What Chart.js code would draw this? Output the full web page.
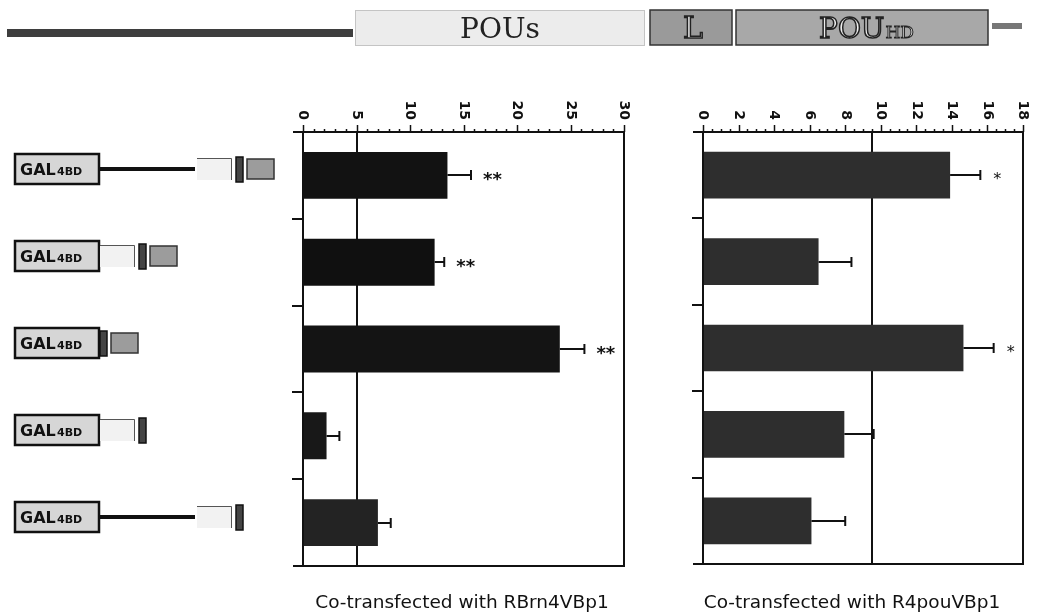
<!DOCTYPE html>
<html>
<head>
<meta charset="utf-8">
<script src="https://cdn.jsdelivr.net/npm/chart.js@4/dist/chart.umd.min.js"></script>
<style>
  html, body { margin: 0; padding: 0; background: #fff; }
  #wrap { position: relative; width: 1037px; height: 613px; }
  #chart-brn4 { position: absolute; left: 0; top: 0; }
  #chart-pou { position: absolute; left: 665px; top: 0; }
</style>
</head>
<body>
<div id="wrap">
  <canvas id="chart-brn4" width="1037" height="613"></canvas>
  <canvas id="chart-pou" width="372" height="613"></canvas>
</div>
<script>
// Constructs (GAL4 DNA-binding domain fusions), top to bottom
const constructs = ['N-POUs-L-POUhd', 'POUs-L-POUhd', 'L-POUhd', 'POUs-L', 'N-POUs-L'];
const constructParts = [['N', 'POUs', 'L', 'HD'], ['POUs', 'L', 'HD'], ['L', 'HD'], ['POUs', 'L'], ['N', 'POUs', 'L']];

// Co-transfected with RBrn4VBp1
const brn4Values = [13.5, 12.3, 24.0, 2.2, 7.0];
const brn4Errors = [2.2, 0.9, 2.3, 1.2, 1.2];
const brn4Sig = ['**', '**', '**', '', ''];
const brn4Ticks = [0, 5, 10, 15, 20, 25, 30];
const brn4RefLine = 5;

// Co-transfected with R4pouVBp1
const pouValues = [13.9, 6.5, 14.65, 7.95, 6.1];
const pouErrors = [1.7, 1.85, 1.7, 1.65, 1.9];
const pouSig = ['*', '', '*', '', ''];
const pouTicks = [0, 2, 4, 6, 8, 10, 12, 14, 16, 18];
const pouRefLine = 9.5;

const INK = '#111';

function line(ctx, x1, y1, x2, y2) {
  ctx.beginPath();
  ctx.moveTo(x1, y1);
  ctx.lineTo(x2, y2);
  ctx.stroke();
}

// Top schematic of the full protein
function drawSchematic(ctx) {
  ctx.save();
  ctx.fillStyle = '#3e3e3e';
  ctx.fillRect(7, 29, 346, 8);

  ctx.fillStyle = '#ececec';
  ctx.fillRect(355, 10, 290, 36);
  ctx.strokeStyle = '#c4c4c4';
  ctx.lineWidth = 1;
  ctx.strokeRect(355.5, 10.5, 289, 35);

  ctx.fillStyle = '#9a9a9a';
  ctx.fillRect(650, 10, 82, 35);
  ctx.fillStyle = '#a8a8a8';
  ctx.fillRect(736, 10, 252, 35);
  ctx.strokeStyle = '#333';
  ctx.lineWidth = 1.5;
  ctx.strokeRect(650, 10, 82, 35);
  ctx.strokeRect(736, 10, 252, 35);

  ctx.fillStyle = '#777';
  ctx.fillRect(992, 23, 30, 6);

  ctx.textBaseline = 'alphabetic';
  ctx.fillStyle = '#222';
  ctx.font = '28px "DejaVu Serif"';
  ctx.textAlign = 'center';
  ctx.fillText('POUs', 500, 38);

  ctx.fillStyle = '#eee';
  ctx.strokeStyle = '#222';
  ctx.lineWidth = 1.5;
  ctx.font = '30px "DejaVu Serif"';
  ctx.fillText('L', 693, 38);
  ctx.strokeText('L', 693, 38);

  ctx.textAlign = 'left';
  ctx.font = '28px "DejaVu Serif"';
  const wPou = ctx.measureText('POU').width;
  ctx.font = '17px "DejaVu Serif"';
  const wHd = ctx.measureText('HD').width;
  const sx = 866 - (wPou + wHd) / 2;
  ctx.font = '28px "DejaVu Serif"';
  ctx.fillText('POU', sx, 38);
  ctx.strokeText('POU', sx, 38);
  ctx.font = '17px "DejaVu Serif"';
  ctx.lineWidth = 1;
  ctx.fillText('HD', sx + wPou + 1, 38);
  ctx.strokeText('HD', sx + wPou + 1, 38);
  ctx.restore();
}

// GAL4BD fusion constructs drawn beside each bar row
function drawConstructs(chart) {
  const { ctx, scales: { y } } = chart;
  const widths = { N: 96, POUs: 35, L: 7, HD: 27 };
  ctx.save();
  constructParts.forEach((parts, i) => {
    const c = Math.round(y.getPixelForValue(i)) - 6;
    // GAL4BD box
    ctx.fillStyle = '#d6d6d6';
    ctx.fillRect(15, c - 15, 84, 30);
    ctx.strokeStyle = INK;
    ctx.lineWidth = 2.5;
    ctx.strokeRect(15, c - 15, 84, 30);
    ctx.fillStyle = INK;
    ctx.textBaseline = 'alphabetic';
    ctx.textAlign = 'left';
    ctx.font = 'bold 16px "DejaVu Sans"';
    ctx.fillText('GAL', 20, c + 6);
    ctx.font = 'bold 11px "DejaVu Sans"';
    ctx.fillText('4BD', 57, c + 6);

    let px = 99;
    parts.forEach((p, k) => {
      const w = widths[p];
      if (p === 'N') {
        ctx.fillStyle = INK;
        ctx.fillRect(px, c - 2, w, 4);
        px += w + 2;
        return;
      }
      if (k > 0 && parts[k - 1] !== 'N') px += 4;
      if (k === 0) px += 1;
      if (p === 'POUs') {
        ctx.fillStyle = '#f2f2f2';
        ctx.fillRect(px, c - 11, w, 22);
        ctx.strokeStyle = '#555';
        ctx.lineWidth = 1;
        ctx.beginPath();
        ctx.moveTo(px, c - 10.5);
        ctx.lineTo(px + w - 0.5, c - 10.5);
        ctx.lineTo(px + w - 0.5, c + 11);
        ctx.stroke();
      } else if (p === 'L') {
        ctx.fillStyle = '#444';
        ctx.fillRect(px, c - 12, w, 25);
        ctx.strokeStyle = INK;
        ctx.lineWidth = 1.5;
        ctx.strokeRect(px, c - 12, w, 25);
      } else if (p === 'HD') {
        ctx.fillStyle = '#9c9c9c';
        ctx.fillRect(px, c - 10, w, 20);
        ctx.strokeStyle = '#333';
        ctx.lineWidth = 1.5;
        ctx.strokeRect(px, c - 10, w, 20);
      }
      px += w;
    });
  });
  ctx.restore();
}

function panelPlugin(opts) {
  return {
    id: 'panel_' + opts.key,
    beforeDatasetsDraw(chart) {
      const { ctx, chartArea: a, scales: { x } } = chart;
      ctx.save();
      ctx.strokeStyle = INK;
      ctx.lineWidth = 2;
      const rx = Math.round(x.getPixelForValue(opts.refLine));
      line(ctx, rx, a.top, rx, a.bottom);
      ctx.restore();
    },
    afterDatasetsDraw(chart) {
      const { ctx, chartArea: a, scales: { x, y } } = chart;
      ctx.save();
      ctx.strokeStyle = INK;
      ctx.fillStyle = INK;
      ctx.lineWidth = 2;

      // frame
      line(ctx, a.left - 10, a.top, a.right + 1, a.top);
      line(ctx, a.left - 10, a.bottom, a.right + 1, a.bottom);
      line(ctx, a.left, a.top, a.left, a.bottom);
      line(ctx, a.right, a.top, a.right, a.bottom);

      // category separators on the left axis
      for (let i = 0; i < opts.values.length - 1; i++) {
        const ty = Math.round((y.getPixelForValue(i) + y.getPixelForValue(i + 1)) / 2);
        line(ctx, a.left - 11, ty, a.left, ty);
      }

      // value ticks on the top axis
      const maxV = opts.ticks[opts.ticks.length - 1];
      const majorStep = opts.ticks[1] - opts.ticks[0];
      const n = Math.round(maxV / opts.minorStep);
      ctx.lineWidth = 1.5;
      for (let k = 0; k <= n; k++) {
        const v = k * opts.minorStep;
        const major = Math.abs(v / majorStep - Math.round(v / majorStep)) < 1e-6;
        const tx = Math.round(x.getPixelForValue(v)) + 0.5;
        line(ctx, tx, a.top, tx, a.top - (major ? 7 : 3));
      }

      // rotated tick labels
      ctx.font = 'bold 14px "DejaVu Sans"';
      ctx.textAlign = 'right';
      ctx.textBaseline = 'middle';
      opts.ticks.forEach(t => {
        ctx.save();
        ctx.translate(x.getPixelForValue(t), a.top - 12);
        ctx.rotate(Math.PI / 2);
        ctx.fillText(String(t), 0, 0);
        ctx.restore();
      });

      // error bars and significance marks
      ctx.lineWidth = 2;
      ctx.textAlign = 'left';
      ctx.textBaseline = 'middle';
      opts.values.forEach((v, i) => {
        const yc = Math.round(y.getPixelForValue(i));
        const x0 = x.getPixelForValue(v);
        const x1 = x.getPixelForValue(v + opts.errors[i]);
        line(ctx, x0, yc, x1, yc);
        line(ctx, x1, yc - 5, x1, yc + 5);
        if (opts.sig[i]) {
          ctx.font = opts.sigFont;
          ctx.fillText(opts.sig[i], x1 + opts.sigGap, yc + 5);
        }
      });

      // caption
      ctx.font = '18.5px "DejaVu Sans"';
      ctx.textAlign = 'center';
      ctx.textBaseline = 'middle';
      ctx.fillText(opts.caption, opts.captionX, 603);
      ctx.restore();

      if (opts.extra) opts.extra(chart);
    }
  };
}

function makeChart(canvasId, opts) {
  return new Chart(document.getElementById(canvasId), {
    type: 'bar',
    data: {
      labels: constructs,
      datasets: [{
        data: opts.values,
        backgroundColor: opts.colors,
        borderWidth: 0,
        barPercentage: 0.54,
        categoryPercentage: 1
      }]
    },
    options: {
      indexAxis: 'y',
      responsive: false,
      animation: false,
      layout: { padding: opts.padding },
      plugins: { legend: { display: false }, tooltip: { enabled: false } },
      scales: {
        x: { type: 'linear', min: 0, max: opts.ticks[opts.ticks.length - 1], display: false },
        y: { type: 'category', display: false }
      }
    },
    plugins: [panelPlugin(opts)]
  });
}

makeChart('chart-brn4', {
  key: 'brn4',
  values: brn4Values,
  errors: brn4Errors,
  sig: brn4Sig,
  ticks: brn4Ticks,
  refLine: brn4RefLine,
  minorStep: 1,
  colors: ['#121212', '#101010', '#141414', '#181818', '#232323'],
  padding: { left: 303, right: 413, top: 132, bottom: 47 },
  sigFont: 'bold 18px "DejaVu Sans"',
  sigGap: 12,
  caption: 'Co-transfected with RBrn4VBp1',
  captionX: 462,
  extra: chart => {
    drawSchematic(chart.ctx);
    drawConstructs(chart);
  }
});

makeChart('chart-pou', {
  key: 'pou',
  values: pouValues,
  errors: pouErrors,
  sig: pouSig,
  ticks: pouTicks,
  refLine: pouRefLine,
  minorStep: 0.5,
  colors: '#2e2e2e',
  padding: { left: 38, right: 14, top: 132, bottom: 49 },
  sigFont: '16px "DejaVu Sans"',
  sigGap: 13,
  caption: 'Co-transfected with R4pouVBp1',
  captionX: 187
});
</script>
</body>
</html>
